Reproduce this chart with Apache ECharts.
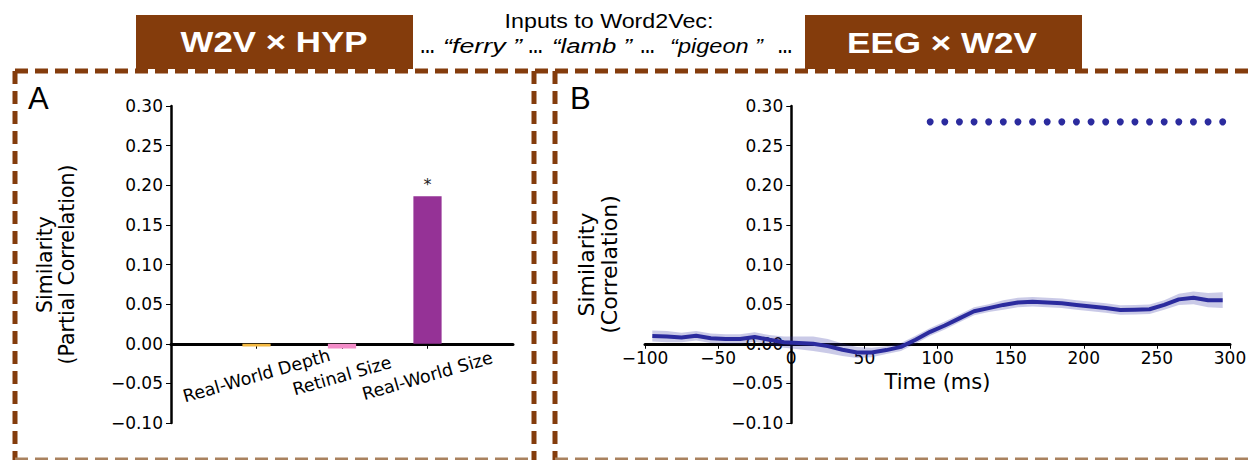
<!DOCTYPE html>
<html>
<head>
<meta charset="utf-8">
<script src="https://cdn.jsdelivr.net/npm/echarts@6/dist/echarts.min.js"></script>
<style>
html,body{margin:0;padding:0;background:#fff;}
#chart{width:1248px;height:460px;}
</style>
</head>
<body>
<div id="chart"></div>
<script>
// ---- Panel A data (W2V x HYP partial correlations) ----
const barCategories = ['Real-World Depth', 'Retinal Size', 'Real-World Size'];
const barValues = [-0.0035, -0.006, 0.186];
const barSignificant = [false, false, true];
const barColors = ['#F4B942', '#F38CC8', '#953296'];

// ---- Panel B data (EEG x W2V correlation time course) ----
const timeMs = [-95, -85, -75, -65, -55, -45, -35, -25, -15, -5,
                5, 15, 25, 35, 45, 55, 65, 75, 85, 95,
                105, 115, 125, 135, 145, 155, 165, 175, 185, 195,
                205, 215, 225, 235, 245, 255, 265, 275, 285, 295];
const meanCorr = [0.0097, 0.009, 0.008, 0.010, 0.007, 0.006, 0.006, 0.0085, 0.005, 0.002,
                  0.001, 0.000, -0.003, -0.0076, -0.011, -0.011, -0.008, -0.004, 0.005, 0.015,
                  0.023, 0.032, 0.041, 0.045, 0.049, 0.052, 0.053, 0.052, 0.051, 0.049,
                  0.047, 0.045, 0.0425, 0.043, 0.0435, 0.049, 0.056, 0.058, 0.055, 0.055];
const semCorr = [0.007, 0.007, 0.006, 0.006, 0.006, 0.006, 0.006, 0.006, 0.006, 0.007,
                 0.008, 0.009, 0.009, 0.008, 0.007, 0.006, 0.005, 0.005, 0.005, 0.005,
                 0.005, 0.005, 0.005, 0.005, 0.006, 0.006, 0.006, 0.006, 0.006, 0.006,
                 0.006, 0.006, 0.006, 0.006, 0.006, 0.006, 0.007, 0.008, 0.009, 0.010];
const sigTimes = [95, 105, 115, 125, 135, 145, 155, 165, 175, 185, 195,
                  205, 215, 225, 235, 245, 255, 265, 275, 285, 295];
const sigLevel = 0.28;

// ---- Tick settings ----
const yMin = -0.10, yMax = 0.30, yStep = 0.05;
const tMin = -100, tMax = 300, tStep = 50;

// ---- Header texts ----
const headerLeft = 'W2V \u00d7 HYP';
const headerRight = 'EEG \u00d7 W2V';
const headerMiddle = 'Inputs to Word2Vec:';
const inputWords = ['\u201cferry\u00a0\u201d', '\u201clamb\u00a0\u201d', '\u201cpigeon\u00a0\u201d'];

// ---- layout constants (pixels) ----
const GRID_TOP = 106, GRID_H = 317;
const A_LEFT = 171, A_W = 342;
const B_LEFT = 645, B_W = 585;
const zeroOffsetY = -GRID_H * (0 - yMin) / (yMax - yMin);       // x axis moved up to y = 0
const zeroOffsetX = -B_W * (0 - tMin) / (tMax - tMin);          // y axis moved right to t = 0

const BROWN = '#843C0C';
const LINE = '#2B2B9E';
const TICKFONT = 'DejaVu Sans';
const TICKSIZE = 17;

function fmtMinus(v, d) {
  const s = Math.abs(v).toFixed(d);
  return (v < -1e-9 ? '\u2212' : '') + s;
}

const measureCtx = document.createElement('canvas').getContext('2d');
function fitText(text, font, cx, cy, targetW, fill) {
  measureCtx.font = font;
  const w = measureCtx.measureText(text).width;
  return {
    type: 'text', x: cx, y: cy, scaleX: targetW / w, z: 5,
    style: {text: text, font: font, fill: fill || '#000',
            textAlign: 'center', textVerticalAlign: 'middle', align: 'center', verticalAlign: 'middle'}
  };
}

const chart = echarts.init(document.getElementById('chart'), null, {renderer: 'svg'});

const yAxisCommon = {
  type: 'value', min: yMin, max: yMax, interval: yStep,
  axisLine: {show: true, onZero: false, lineStyle: {color: '#000', width: 2.5}},
  axisTick: {show: true, inside: false, length: 5, lineStyle: {color: '#000', width: 1}},
  axisLabel: {fontFamily: TICKFONT, fontSize: TICKSIZE, color: '#000', margin: 8,
              formatter: v => fmtMinus(v, 2)},
  splitLine: {show: false},
  nameLocation: 'middle', nameRotate: 90,
  nameTextStyle: {fontFamily: TICKFONT, fontSize: 20.5, color: '#000', lineHeight: 22}
};

// header word pieces: [centre x, target width]
const wordSlots = [[482.5, 79], [592, 80], [716.5, 93]];
const dotSlots = [427.5, 535.5, 647.5, 785];

const headerGraphics = [
  {type: 'rect', shape: {x: 136, y: 15, width: 277, height: 54}, style: {fill: BROWN}, z: 1},
  {type: 'rect', shape: {x: 805, y: 15, width: 277, height: 54}, style: {fill: BROWN}, z: 1},
  fitText(headerLeft, 'bold 30px "Liberation Sans"', 274, 42, 187, '#fff'),
  fitText(headerRight, 'bold 30px "Liberation Sans"', 942, 42, 190, '#fff'),
  fitText(headerMiddle, '21px "Liberation Sans"', 609, 21, 209)
];
inputWords.forEach((w, i) => {
  headerGraphics.push(fitText(w, 'italic 21px "Liberation Sans"', wordSlots[i][0], 46, wordSlots[i][1]));
});
dotSlots.forEach(cx => {
  headerGraphics.push(fitText('\u2026', 'bold 20px "Liberation Sans"', cx, 46, 15));
});

const option = {
  animation: false,
  backgroundColor: '#fff',
  grid: [
    {left: A_LEFT, top: GRID_TOP, width: A_W, height: GRID_H, outerBoundsMode: 'none', containLabel: false},
    {left: B_LEFT, top: GRID_TOP, width: B_W, height: GRID_H, outerBoundsMode: 'none', containLabel: false}
  ],
  xAxis: [
    {
      gridIndex: 0, type: 'category', boundaryGap: false, position: 'bottom', offset: zeroOffsetY,
      data: [''].concat(barCategories, ['']),
      axisLine: {show: true, onZero: false, lineStyle: {color: '#000', width: 3}},
      axisTick: {show: true, inside: false, length: 5, lineStyle: {color: '#000', width: 1},
                 interval: (i) => i >= 1 && i <= barCategories.length},
      axisLabel: {fontFamily: TICKFONT, fontSize: 17.5, color: '#000', rotate: 16,
                  align: 'center', verticalAlign: 'middle', margin: 32,
                  interval: 0},
      splitLine: {show: false}
    },
    {
      gridIndex: 1, type: 'value', min: tMin, max: tMax, interval: tStep, position: 'bottom', offset: zeroOffsetY,
      axisLine: {show: true, onZero: false, lineStyle: {color: '#000', width: 3}},
      axisTick: {show: true, inside: false, length: 5, lineStyle: {color: '#000', width: 1}},
      axisLabel: {fontFamily: TICKFONT, fontSize: TICKSIZE, color: '#000', margin: 6,
                  formatter: v => fmtMinus(v, 0)},
      splitLine: {show: false},
      name: 'Time (ms)', nameLocation: 'middle', nameGap: 27,
      nameTextStyle: {fontFamily: TICKFONT, fontSize: 21, color: '#000'}
    }
  ],
  yAxis: [
    Object.assign({}, yAxisCommon, {gridIndex: 0, position: 'left', name: 'Similarity\n(Partial Correlation)', nameGap: 93}),
    Object.assign({}, yAxisCommon, {gridIndex: 1, position: 'left', offset: zeroOffsetX,
      name: 'Similarity\n(Correlation)', nameGap: 170,
      nameTextStyle: {fontFamily: TICKFONT, fontSize: 22, color: '#000', lineHeight: 23}})
  ],
  series: [
    {
      type: 'bar', xAxisIndex: 0, yAxisIndex: 0, barWidth: '33%',
      data: [null].concat(barValues.map((v, i) => ({
        value: v,
        itemStyle: {color: barColors[i]},
        label: {show: barSignificant[i], position: 'top', formatter: '*', distance: 4,
                fontFamily: TICKFONT, fontSize: 16, color: '#222'}
      })), [null]),
      z: 1
    },
    {
      type: 'custom', xAxisIndex: 1, yAxisIndex: 1, silent: true, z: 1,
      data: timeMs.map((t, i) => [t, meanCorr[i] - semCorr[i], meanCorr[i] + semCorr[i]]),
      encode: {x: 0, y: [1, 2]},
      renderItem: function (params, api) {
        if (params.dataIndex !== 0) return {type: 'group', children: []};
        const upper = timeMs.map((t, i) => api.coord([t, meanCorr[i] + semCorr[i]]));
        const lower = timeMs.map((t, i) => api.coord([t, meanCorr[i] - semCorr[i]])).reverse();
        return {type: 'polygon', shape: {points: upper.concat(lower)},
                style: {fill: 'rgba(43,43,158,0.25)'}};
      }
    },
    {
      type: 'line', xAxisIndex: 1, yAxisIndex: 1,
      data: timeMs.map((t, i) => [t, meanCorr[i]]),
      symbol: 'none', lineStyle: {color: LINE, width: 4}, z: 3
    },
    {
      type: 'scatter', xAxisIndex: 1, yAxisIndex: 1,
      data: sigTimes.map(t => [t, sigLevel]),
      symbol: 'circle', symbolSize: 7, itemStyle: {color: LINE, opacity: 1}, z: 3
    }
  ],
  graphic: headerGraphics.concat([
    // dashed panel borders
    {type: 'line', shape: {x1: 15, y1: 71, x2: 1248, y2: 71}, z: 2,
     style: {stroke: BROWN, lineWidth: 5, lineDash: [13, 7]}},
    {type: 'line', shape: {x1: 15, y1: 71, x2: 15, y2: 460}, z: 2,
     style: {stroke: BROWN, lineWidth: 5, lineDash: [13, 7]}},
    {type: 'line', shape: {x1: 534, y1: 71, x2: 534, y2: 460}, z: 2,
     style: {stroke: BROWN, lineWidth: 5, lineDash: [13, 7]}},
    {type: 'line', shape: {x1: 555, y1: 71, x2: 555, y2: 460}, z: 2,
     style: {stroke: BROWN, lineWidth: 5, lineDash: [13, 7]}},
    {type: 'line', shape: {x1: 15, y1: 459, x2: 534, y2: 459}, z: 2,
     style: {stroke: '#A9825F', lineWidth: 3, lineDash: [13, 7]}},
    {type: 'line', shape: {x1: 555, y1: 459, x2: 1248, y2: 459}, z: 2,
     style: {stroke: '#A9825F', lineWidth: 3, lineDash: [13, 7]}},
    // panel letters
    {type: 'text', x: 28, y: 98, z: 5,
     style: {text: 'A', font: '31px "Liberation Sans"', fill: '#000',
             textAlign: 'left', textVerticalAlign: 'middle', align: 'left', verticalAlign: 'middle'}},
    {type: 'text', x: 570, y: 98, z: 5,
     style: {text: 'B', font: '31px "Liberation Sans"', fill: '#000',
             textAlign: 'left', textVerticalAlign: 'middle', align: 'left', verticalAlign: 'middle'}}
  ])
};

chart.setOption(option);
</script>
</body>
</html>
